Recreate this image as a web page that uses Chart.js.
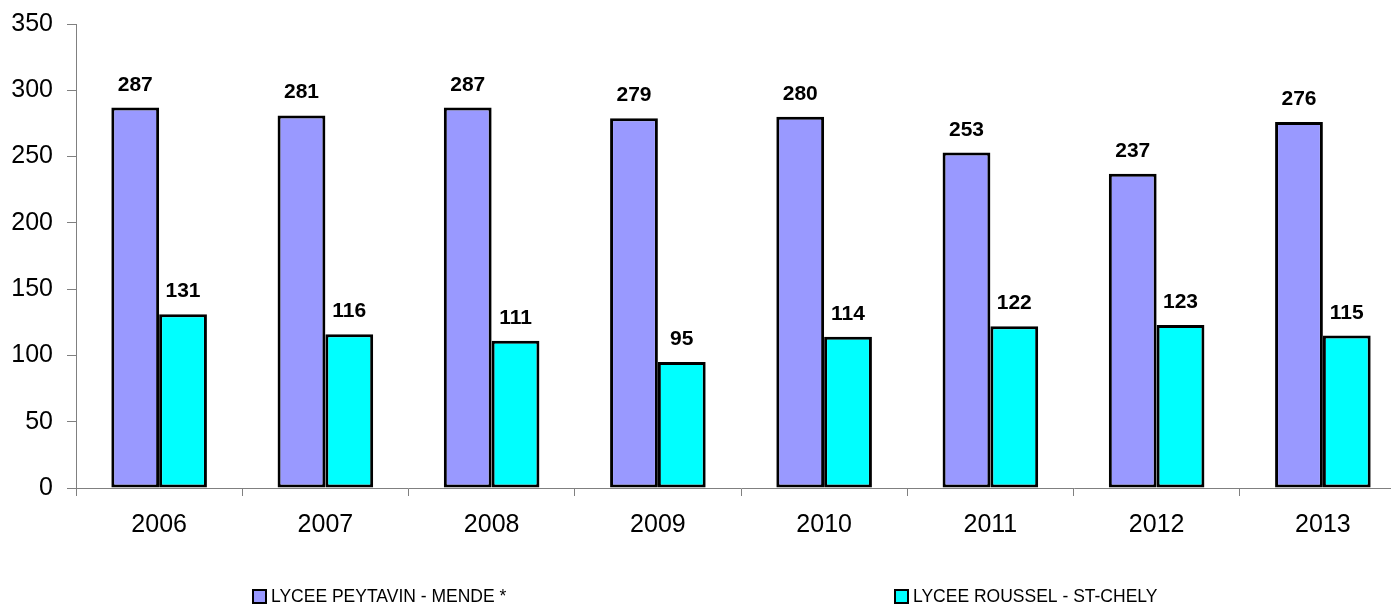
<!DOCTYPE html>
<html>
<head>
<meta charset="utf-8">
<script src="https://cdn.jsdelivr.net/npm/chart.js@4/dist/chart.umd.min.js"></script>
<style>
  html, body { margin: 0; padding: 0; background: #fff; overflow: hidden; }
  canvas { display: block; }
</style>
</head>
<body>
<canvas id="c" width="1410" height="608"></canvas>
<script>
const years = ['2006', '2007', '2008', '2009', '2010', '2011', '2012', '2013'];
const peytavin = [287, 281, 287, 279, 280, 253, 237, 276];
const roussel = [131, 116, 111, 95, 114, 122, 123, 115];
const seriesNames = ['LYCEE PEYTAVIN - MENDE *', 'LYCEE ROUSSEL - ST-CHELY'];
const yTicks = [0, 50, 100, 150, 200, 250, 300, 350];

const FONT = '"Liberation Sans Narrow", "Arial Narrow", "Liberation Sans", Arial, sans-serif';

// values printed above each bar
const valueLabels = {
  id: 'valueLabels',
  afterDatasetsDraw(chart) {
    const ctx = chart.ctx;
    ctx.save();
    ctx.font = 'bold 21px ' + FONT;
    ctx.fillStyle = '#000';
    ctx.textAlign = 'center';
    ctx.textBaseline = 'alphabetic';
    chart.data.datasets.forEach((ds, i) => {
      chart.getDatasetMeta(i).data.forEach((bar, j) => {
        ctx.fillText(String(ds.data[j]), bar.x, bar.y - 17);
      });
    });
    ctx.restore();
  }
};

// legend row under the axis
const bottomLegend = {
  id: 'bottomLegend',
  afterDraw(chart) {
    const ctx = chart.ctx;
    const xs = [253, 895];
    const y = 597;
    ctx.save();
    ctx.font = '17.5px ' + FONT;
    ctx.textBaseline = 'middle';
    chart.data.datasets.forEach((ds, i) => {
      const x = xs[i];
      ctx.fillStyle = ds.backgroundColor;
      ctx.fillRect(x, y - 7, 13, 13);
      ctx.lineWidth = 2;
      ctx.strokeStyle = '#000';
      ctx.strokeRect(x, y - 7, 13, 13);
      ctx.fillStyle = '#000';
      ctx.fillText(ds.label, x + 18, y);
    });
    ctx.restore();
  }
};

new Chart(document.getElementById('c'), {
  type: 'bar',
  data: {
    labels: years,
    datasets: [
      { label: seriesNames[0], data: peytavin, backgroundColor: '#9999FF', borderColor: '#000', borderWidth: 3, borderSkipped: false },
      { label: seriesNames[1], data: roussel, backgroundColor: '#00FFFF', borderColor: '#000', borderWidth: 3, borderSkipped: false }
    ]
  },
  options: {
    responsive: false,
    animation: false,
    events: [],
    categoryPercentage: 0.575,
    barPercentage: 1.0,
    layout: { padding: { top: 24, right: 4, left: 0, bottom: 0 } },
    plugins: { legend: { display: false }, tooltip: { enabled: false } },
    scales: {
      x: {
        grid: { display: true, offset: true, drawOnChartArea: false, drawTicks: true, tickLength: 8, color: '#808080', lineWidth: 1 },
        border: { display: true, color: '#808080', width: 1 },
        ticks: { color: '#000', font: { family: FONT, size: 25 }, padding: 14, maxRotation: 0 },
        afterFit(s) { s.height = 120; }
      },
      y: {
        min: 0, max: 350,
        afterBuildTicks(s) { s.ticks = yTicks.map(v => ({ value: v })); },
        grid: { display: true, drawOnChartArea: false, drawTicks: true, tickLength: 9, color: '#808080', lineWidth: 1 },
        border: { display: true, color: '#808080', width: 1 },
        ticks: { color: '#000', font: { family: FONT, size: 25 }, padding: 14 },
        afterFit(s) { s.width = 76; s.paddingTop = 0; s.paddingBottom = 0; }
      }
    }
  },
  plugins: [valueLabels, bottomLegend]
});
</script>
</body>
</html>
